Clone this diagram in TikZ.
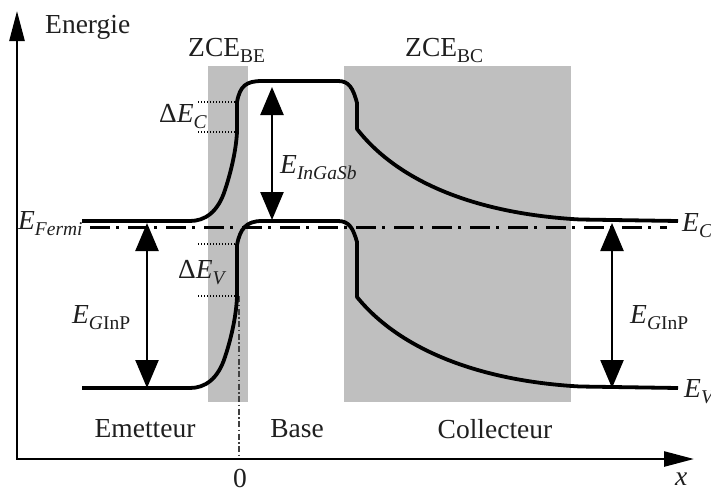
\documentclass[tikz,border=0pt]{standalone}
\usepackage{fontspec}
\setmainfont{Liberation Serif}
\usetikzlibrary{arrows.meta}
\newcommand\mysub[1]{\raisebox{-6.5pt}{\fontsize{19.5}{20}\selectfont #1}}
\newcommand\Ei{\textit{E}}
\begin{document}
\begin{tikzpicture}[x=1pt,y=-1pt,
  lbl/.style={font=\fontsize{27.5}{30}\selectfont, inner sep=0pt, text=black!88},
  zone/.style={fill=black!25, draw=none},
  band/.style={line width=3.8pt, line join=round},
  axisline/.style={line width=2.6pt, arrows={Triangle[length=30pt,width=15pt]-Triangle[length=30pt,width=15pt]}},
  gap/.style={line width=2.4pt, arrows={Triangle[length=28pt,width=23pt]-Triangle[length=28pt,width=23pt]}},
  fermi/.style={line width=2.6pt, dash pattern=on 20pt off 6pt on 3pt off 9pt},
  guide/.style={line width=1.2pt, dash pattern=on 1.2pt off 1.8pt},
  zeroline/.style={line width=1.3pt, black!75, dash pattern=on 6pt off 2.5pt on 1.5pt off 2.5pt}]
\useasboundingbox (0,0) rectangle (711,490);
% zones
\fill[zone] (208,66) rectangle (248,402);
\fill[zone] (344,66) rectangle (571,402);
% guides
\coordinate (c1a) at (198,102); \coordinate (c1b) at (237,102);
\coordinate (c2a) at (198,132); \coordinate (c2b) at (237,132);
\coordinate (v1a) at (198,244); \coordinate (v1b) at (237,244);
\coordinate (v2a) at (198,296); \coordinate (v2b) at (237,296);
\draw[guide] (c1a) -- (c1b);
\draw[guide] (c2a) -- (c2b);
\draw[guide] (v1a) -- (v1b);
\draw[guide] (v2a) -- (v2b);
% axes
\coordinate (O) at (17,459);
\coordinate (ytip) at (17,11);
\coordinate (xtip) at (694,459);
\coordinate (zt) at (239,296);
\coordinate (zb) at (239,459);
\draw[zeroline] (zt) -- (zb);
\draw[axisline] (ytip) -- (O) -- (xtip);
% conduction band
\draw[band] (82,221) -- (190,221) .. controls (205,221) and (218,212) .. (225,190)
  .. controls (230,175) and (236,152) .. (237,132) -- (237,102)
  .. controls (240,86) and (246,81) .. (262,81) -- (338,81)
  .. controls (349,81) and (353,88) .. (357,103) -- (357,129)
  .. controls (400,184) and (480,214) .. (580,219.5) -- (678,221);
% valence band
\draw[band] (82,388) -- (190,388) .. controls (205,388) and (218,379) .. (225,357)
  .. controls (230,342) and (236,319) .. (237,297) -- (237,245)
  .. controls (240,229) and (246,221) .. (262,221) -- (338,221)
  .. controls (349,221) and (353,228) .. (357,242) -- (357,297)
  .. controls (400,350) and (480,381) .. (580,386.5) -- (678,388);
% Fermi level
\coordinate (fa) at (90,227.5); \coordinate (fb) at (667,227.5);
\draw[fermi] (fa) -- (fb);
% gap arrows
\coordinate (gl1) at (147,223); \coordinate (gl2) at (147,388);
\coordinate (gr1) at (612,223); \coordinate (gr2) at (612,388);
\coordinate (gm1) at (272,87); \coordinate (gm2) at (272,220);
\draw[gap] (gl1) -- (gl2);
\draw[gap] (gr1) -- (gr2);
\draw[gap] (gm1) -- (gm2);
% labels
\node[lbl, anchor=base west] (energie) at (45,33) {Energie};
\node[lbl, anchor=base west] (zbe) at (188,56) {ZCE\mysub{BE}};
\node[lbl, anchor=base west] (zbc) at (405,56) {ZCE\mysub{BC}};
\node[lbl, anchor=base west] (efermi) at (18,229) {\Ei\mysub{\itshape Fermi}};
\node[lbl, anchor=base west] (dec) at (159,122) {Δ\Ei\mysub{\itshape C}};
\node[lbl, anchor=base west] (dev) at (178,278) {Δ\Ei\mysub{\itshape V}};
\node[lbl, anchor=base west] (eig) at (280,173) {\Ei\mysub{\itshape InGaSb}};
\node[lbl, anchor=base west] (egl) at (72,323) {\Ei\mysub{\textit{G}InP}};
\node[lbl, anchor=base west] (egr) at (630,323) {\Ei\mysub{\textit{G}InP}};
\node[lbl, anchor=base west] (ec) at (682,231) {\Ei\mysub{\itshape C}};
\node[lbl, anchor=base west] (ev) at (684,397) {\Ei\mysub{\itshape V}};
\node[lbl, anchor=base] (zero) at (240,487) {0};
\node[lbl, anchor=base west] (xl) at (675,485) {\textit{x}};
\node[lbl, anchor=base] (em) at (145,437) {Emetteur};
\node[lbl, anchor=base] (ba) at (297,437) {Base};
\node[lbl, anchor=base] (co) at (495,438) {Collecteur};
\end{tikzpicture}
\end{document}
